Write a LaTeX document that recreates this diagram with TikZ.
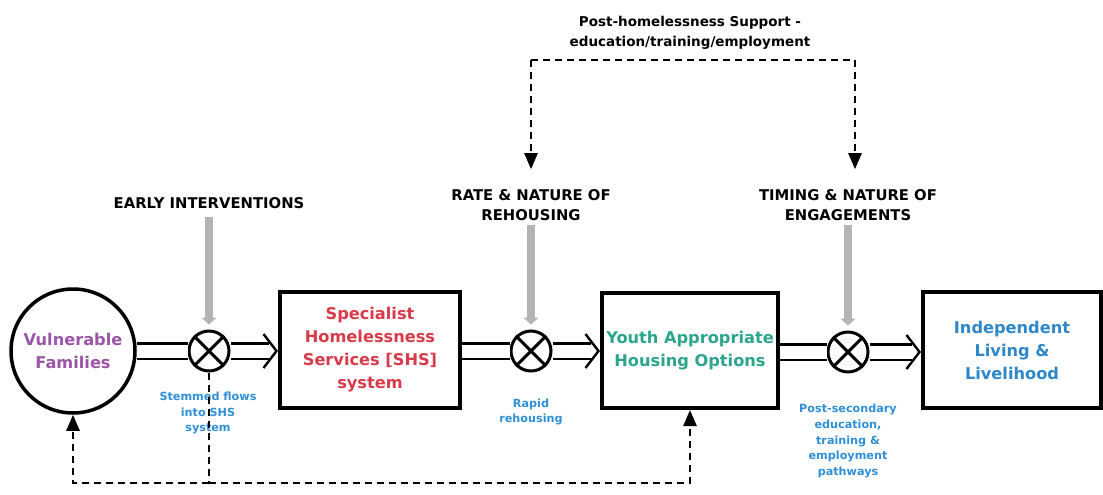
\documentclass[tikz,border=0pt]{standalone}
\usepackage{fontspec}
\setmainfont{DejaVu Sans}
\usetikzlibrary{arrows.meta}
\definecolor{vfpurple}{HTML}{9B55A6}
\definecolor{shsred}{HTML}{D93A4A}
\definecolor{yteal}{HTML}{2BA58C}
\definecolor{ilblue}{HTML}{2D87C8}
\definecolor{lblblue}{HTML}{2F8FD6}
\definecolor{arrgray}{HTML}{B4B4B4}
\tikzset{
  mainlbl/.style={font=\fontsize{16.2}{23}\selectfont\bfseries, align=center, inner sep=0},
  boxnode/.style={draw, line width=4, rectangle, inner sep=0},
  ringnode/.style={draw, line width=3.5, circle, inner sep=0, minimum size=124},
  xnode/.style={draw, line width=3, circle, inner sep=0, minimum size=40},
  capslbl/.style={font=\fontsize{14.8}{20}\selectfont\bfseries, align=center, inner sep=2},
  toplbl/.style={font=\fontsize{13.5}{20}\selectfont\bfseries, align=center, inner sep=2},
  bluelbl/.style={font=\fontsize{11.2}{15.8}\selectfont\bfseries, align=center, text=lblblue, inner sep=0},
  flow/.style={double, double distance=13, line width=2.2},
  flowshaft/.style={flow, shorten >=9},
  flowtip/.style={draw=white, line width=0.3,
    -{Straight Barb[color=black, line width=2.4pt, length=13, width=34]}},
  grayarr/.style={draw=arrgray, line width=8, -{Triangle[length=7, width=15]}},
  dashline/.style={line width=2.5, dash pattern=on 7 off 5},
  dashhead/.style={dashline, -{Triangle[length=16, width=13]}}
}
\begin{document}
\begin{tikzpicture}[x=1pt, y=-1pt]
\useasboundingbox (0,0) rectangle (1103,495);

% main nodes
\node[ringnode, mainlbl, text=vfpurple] (vf) at (73,351) {Vulnerable\\Families};
\node[boxnode, mainlbl, text=shsred, minimum width=180, minimum height=116] (b1) at (370,350)
  {Specialist\\Homelessness\\Services [SHS]\\system};
\node[boxnode, mainlbl, text=yteal, minimum width=176, minimum height=115] (b2) at (690,350.5)
  {Youth Appropriate\\Housing Options};
\node[boxnode, mainlbl, text=ilblue, minimum width=178, minimum height=116] (b3) at (1012,350)
  {Independent\\Living \&\\Livelihood};

% summing junctions
\node[xnode] (o1) at (209,351) {};
\node[xnode] (o2) at (531,351) {};
\node[xnode] (o3) at (848,352) {};
\foreach \o in {o1,o2,o3}{
  \draw[line width=3] (\o.north west) -- (\o.south east);
  \draw[line width=3] (\o.north east) -- (\o.south west);
}

% flows
\draw[flow] (vf.east |- o1.west) -- (o1.west);
\draw[flowshaft] (o1.east) -- (b1.west |- o1.east);
\draw[flowtip] (o1.east) -- (b1.west |- o1.east);
\draw[flow] (b1.east |- o2.west) -- (o2.west);
\draw[flowshaft] (o2.east) -- (b2.west |- o2.east);
\draw[flowtip] (o2.east) -- (b2.west |- o2.east);
\draw[flow] (b2.east |- o3.west) -- (o3.west);
\draw[flowshaft] (o3.east) -- (b3.west |- o3.east);
\draw[flowtip] (o3.east) -- (b3.west |- o3.east);

% control labels
\node[capslbl] (ei) at (209,203) {EARLY INTERVENTIONS};
\node[capslbl] (rate) at (531,205) {RATE \& NATURE OF\\REHOUSING};
\node[capslbl] (tim) at (848,205) {TIMING \& NATURE OF\\ENGAGEMENTS};
\draw[grayarr, shorten <=6, shorten >=5] (ei.south) -- (o1.north);
\draw[grayarr, shorten <=2, shorten >=5] (rate.south) -- (o2.north);
\draw[grayarr, shorten <=2, shorten >=5] (tim.south) -- (o3.north);

% outcome labels
\node[bluelbl] (sf) at (208,413) {Stemmed flows\\into SHS\\system};
\node[bluelbl] (rr) at (531,412) {Rapid\\rehousing};
\node[bluelbl] (ps) at (848,441) {Post-secondary\\education,\\training \&\\employment\\pathways};

% post-homelessness support (top)
\node[toplbl] (phs) at (690,33) {Post-homelessness Support -\\education/training/employment};
\coordinate (tl) at (531,60);
\coordinate (tr) at (855,60);
\draw[dashline] (tl) -- (tr);
\draw[dashhead, shorten >=18] (tl) -- (rate.north);
\draw[dashhead, shorten >=18] (tr) -- (tr |- tim.north);

% feedback (bottom)
\coordinate (bj) at (209,483);
\draw[dashline] (o1.south) -- (bj);
\draw[dashhead] (bj) -| (vf.south);
\draw[dashhead] (bj) -| (b2.south);
\end{tikzpicture}
\end{document}
